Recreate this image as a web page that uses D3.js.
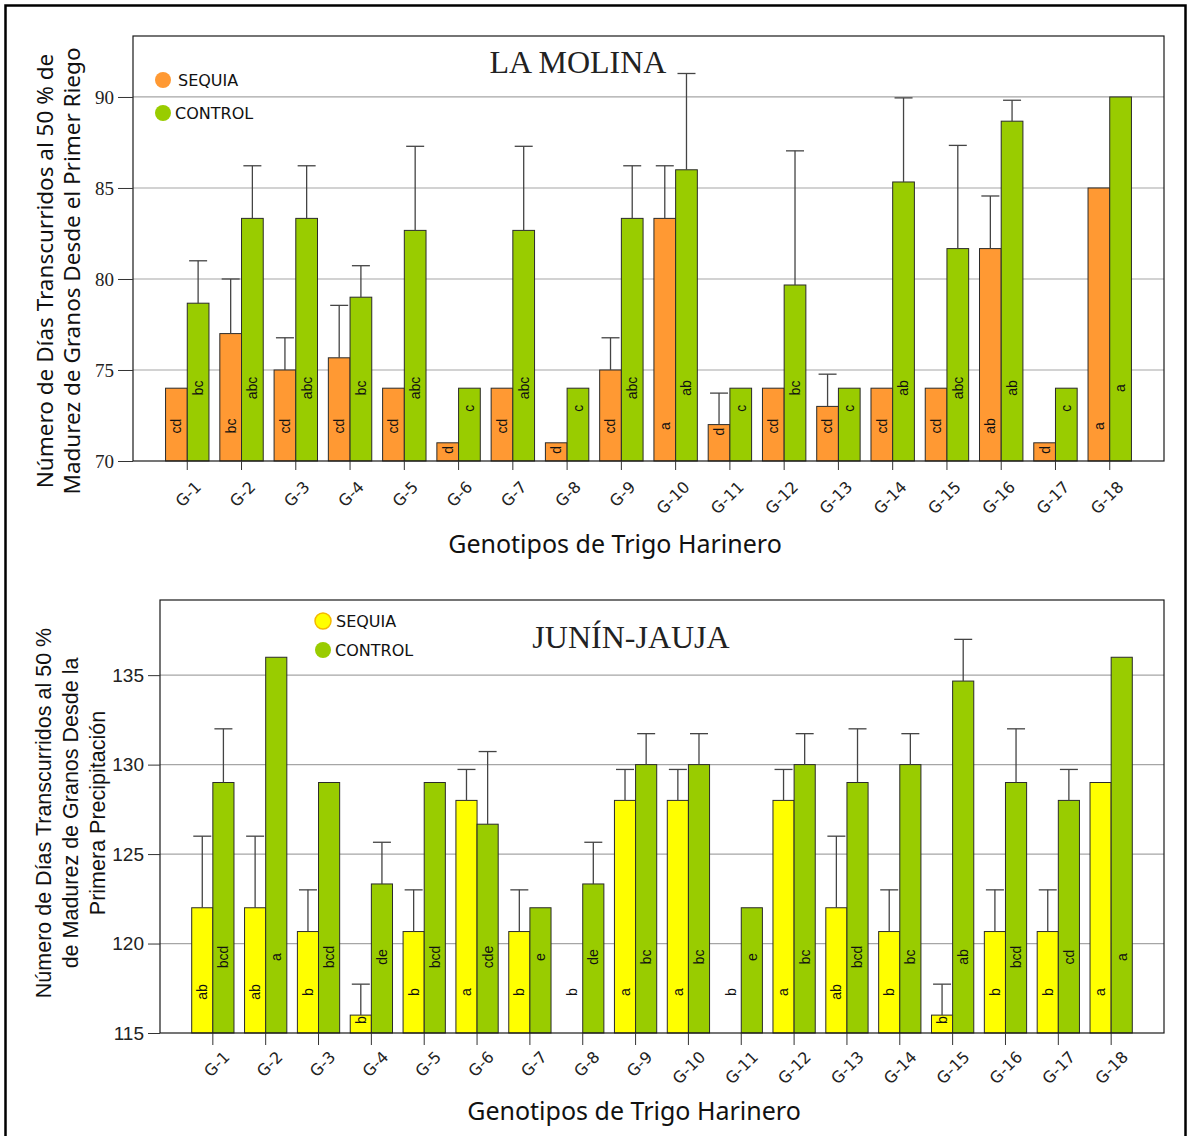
<!DOCTYPE html>
<html>
<head>
<meta charset="utf-8">
<script src="https://cdn.jsdelivr.net/npm/d3@7"></script>
<style>
  body { margin: 0; background: #fff; }
  svg { display: block; }
</style>
</head>
<body>
<script>
const genotipos = d3.range(1, 19).map(i => `G-${i}`)

// LA MOLINA
const molinaSequia = [74, 77, 75, 75.67, 74, 71, 74, 71, 75, 83.33, 72, 74, 73, 74, 74, 81.67, 71, 85]
const molinaSequiaErr = [0, 3, 1.77, 2.88, 0, 0, 0, 0, 1.77, 2.89, 1.73, 0, 1.77, 0, 0, 2.89, 0, 0]
const molinaControl = [78.67, 83.33, 83.33, 79, 82.67, 74, 82.67, 74, 83.33, 86, 74, 79.67, 74, 85.33, 81.67, 88.67, 74, 90]
const molinaControlErr = [2.33, 2.89, 2.89, 1.73, 4.62, 0, 4.62, 0, 2.89, 5.29, 0, 7.37, 0, 4.62, 5.67, 1.15, 0, 0]
const molinaSequiaLetras = ['cd', 'bc', 'cd', 'cd', 'cd', 'd', 'cd', 'd', 'cd', 'a', 'd', 'cd', 'cd', 'cd', 'cd', 'ab', 'd', 'a']
const molinaControlLetras = ['bc', 'abc', 'abc', 'bc', 'abc', 'c', 'abc', 'c', 'abc', 'ab', 'c', 'bc', 'c', 'ab', 'abc', 'ab', 'c', 'a']
const molinaTicks = [70, 75, 80, 85, 90]

// JUNÍN-JAUJA
const jaujaSequia = [122, 122, 120.67, 116, 120.67, 128, 120.67, null, 128, 128, null, 128, 122, 120.67, 116, 120.67, 120.67, 129]
const jaujaSequiaErr = [4, 4, 2.33, 1.73, 2.33, 1.73, 2.33, 0, 1.73, 1.73, 0, 1.73, 4, 2.33, 1.73, 2.33, 2.33, 0]
const jaujaControl = [129, 136, 129, 123.33, 129, 126.67, 122, 123.33, 130, 130, 122, 130, 129, 130, 134.67, 129, 128, 136]
const jaujaControlErr = [3, 0, 0, 2.33, 0, 4.06, 0, 2.33, 1.73, 1.73, 0, 1.73, 3, 1.73, 2.33, 3, 1.73, 0]
const jaujaSequiaLetras = ['ab', 'ab', 'b', 'b', 'b', 'a', 'b', 'b', 'a', 'a', 'b', 'a', 'ab', 'b', 'b', 'b', 'b', 'a']
const jaujaControlLetras = ['bcd', 'a', 'bcd', 'de', 'bcd', 'cde', 'e', 'de', 'bc', 'bc', 'e', 'bc', 'bcd', 'bc', 'ab', 'bcd', 'cd', 'a']
const jaujaTicks = [115, 120, 125, 130, 135]

const W = 1188, H = 1136
const svg = d3.select('body').append('svg').attr('width', W).attr('height', H)

// outer frame
svg.append('rect')
  .attr('x', 5.5).attr('y', 5.5)
  .attr('width', 1180).attr('height', 1140)
  .attr('fill', 'none').attr('stroke', '#000').attr('stroke-width', 2.5)

function drawChart(o) {
  const x = d3.scaleBand()
    .domain(genotipos)
    .range([o.left, o.right])
    .paddingInner(0.2)
    .paddingOuter(0.6)
  const bw = x.bandwidth() / 2
  const y = d3.scaleLinear().domain(o.domain).range([o.bottom, o.top])

  const g = svg.append('g')

  // grid
  g.append('g').selectAll('line')
    .data(o.ticks.slice(1))
    .join('line')
      .attr('x1', o.left).attr('x2', o.right)
      .attr('y1', d => y(d)).attr('y2', d => y(d))
      .attr('stroke', '#a6a6a6').attr('stroke-width', 1.2)

  const rows = genotipos.map((k, i) => ({
    k,
    s: o.seq[i], se: o.seqErr[i], sl: o.seqLet[i],
    c: o.ctl[i], ce: o.ctlErr[i], cl: o.ctlLet[i]
  }))

  // bars
  const grp = g.append('g').selectAll('g').data(rows).join('g')
  grp.filter(d => d.s != null).append('rect')
    .attr('x', d => x(d.k) + x.bandwidth() / 2 - bw)
    .attr('y', d => y(d.s))
    .attr('width', bw)
    .attr('height', d => y(o.domain[0]) - y(d.s))
    .attr('fill', o.seqColor).attr('stroke', '#2b2b2b').attr('stroke-width', 1)
  grp.append('rect')
    .attr('x', d => x(d.k) + x.bandwidth() / 2)
    .attr('y', d => y(d.c))
    .attr('width', bw)
    .attr('height', d => y(o.domain[0]) - y(d.c))
    .attr('fill', o.ctlColor).attr('stroke', '#2b2b2b').attr('stroke-width', 1)

  // error bars
  const err = (sel, val, e, cx) => {
    const f = sel.filter(d => d[e] > 0)
    f.append('line')
      .attr('x1', cx).attr('x2', cx)
      .attr('y1', d => y(d[val])).attr('y2', d => y(d[val] + d[e]))
      .attr('stroke', '#444').attr('stroke-width', 1.3)
    f.append('line')
      .attr('x1', d => cx(d) - 9).attr('x2', d => cx(d) + 9)
      .attr('y1', d => y(d[val] + d[e])).attr('y2', d => y(d[val] + d[e]))
      .attr('stroke', '#444').attr('stroke-width', 1.3)
  }
  err(grp, 's', 'se', d => x(d.k) + x.bandwidth() / 2 - bw / 2)
  err(grp, 'c', 'ce', d => x(d.k) + x.bandwidth() / 2 + bw / 2)

  // letters (significance groups)
  const letter = (sel, val, key, cx, ly, pad) => {
    sel.append('text')
      .attr('transform', d => {
        const cy = d[val] == null ? ly : Math.max(ly, y(d[val]) + pad)
        return `translate(${cx(d)},${cy}) rotate(-90)`
      })
      .attr('text-anchor', 'middle')
      .attr('dy', '0.35em')
      .attr('font-family', '"Liberation Sans", Arial, sans-serif')
      .attr('font-size', 14)
      .attr('fill', '#111')
      .text(d => d[key])
  }
  letter(grp, 's', 'sl', d => x(d.k) + x.bandwidth() / 2 - bw / 2, o.seqLabelY, o.seqPad)
  letter(grp, 'c', 'cl', d => x(d.k) + x.bandwidth() / 2 + bw / 2, o.ctlLabelY, o.ctlPad)

  // frame
  g.append('rect')
    .attr('x', o.left).attr('y', o.top)
    .attr('width', o.right - o.left).attr('height', o.bottom - o.top)
    .attr('fill', 'none').attr('stroke', '#1a1a1a').attr('stroke-width', 1.2)

  // y axis
  const ya = g.append('g')
    .attr('transform', `translate(${o.left},0)`)
    .call(d3.axisLeft(y).tickValues(o.ticks).tickSize(o.tickLen).tickPadding(o.tickPad))
  ya.select('.domain').remove()
  ya.selectAll('line').attr('stroke', '#333')
  ya.selectAll('text')
    .attr('font-family', o.yFont).attr('font-size', o.yFontSize).attr('fill', '#222')

  // x axis
  const xa = g.append('g')
    .attr('transform', `translate(0,${o.bottom})`)
    .call(d3.axisBottom(x).tickSize(o.xTickLen).tickSizeOuter(0))
  xa.select('.domain').remove()
  xa.selectAll('line').attr('stroke', '#333')
  xa.selectAll('text')
    .attr('font-family', '"DejaVu Sans", Verdana, sans-serif')
    .attr('font-size', 16)
    .attr('fill', '#222')
    .attr('text-anchor', 'end')
    .attr('dy', '0.35em')
    .attr('y', 0)
    .attr('transform', `translate(${o.xlx},${o.xly}) rotate(-45)`)

  // titles
  g.append('text')
    .attr('x', o.titleX).attr('y', o.titleY)
    .attr('text-anchor', 'middle')
    .attr('font-family', '"Liberation Serif", "Times New Roman", serif')
    .attr('font-size', 32).attr('fill', '#222')
    .text(o.title)

  g.append('text')
    .attr('x', o.xTitleX).attr('y', o.xTitleY)
    .attr('text-anchor', 'middle')
    .attr('font-family', '"Noto Sans", "Open Sans", sans-serif')
    .attr('font-size', 25).attr('fill', '#111')
    .text('Genotipos de Trigo Harinero')

  const yt = g.append('text')
    .attr('transform', `translate(0,${o.yTitleY}) rotate(-90)`)
    .attr('text-anchor', 'middle')
    .attr('font-family', o.yTitleFont)
    .attr('font-size', o.yTitleSize).attr('fill', '#111')
  yt.selectAll('tspan').data(o.yTitle).join('tspan')
    .attr('x', 0)
    .attr('y', (d, i) => o.yTitleX[i])
    .attr('dy', '0.35em')
    .text(d => d)

  // legend
  const lg = g.append('g')
  const items = [
    { name: 'SEQUIA', color: o.seqColor, stroke: o.seqLegendStroke, cy: o.legY[0], tx: o.legTx[0] },
    { name: 'CONTROL', color: o.ctlColor, stroke: 'none', cy: o.legY[1], tx: o.legTx[1] }
  ]
  lg.selectAll('circle').data(items).join('circle')
    .attr('cx', o.legX).attr('cy', d => d.cy).attr('r', 8)
    .attr('fill', d => d.color).attr('stroke', d => d.stroke).attr('stroke-width', 1.5)
  lg.selectAll('text').data(items).join('text')
    .attr('x', d => d.tx).attr('y', d => d.cy + 6)
    .attr('font-family', '"DejaVu Sans", Verdana, sans-serif')
    .attr('font-size', 16).attr('fill', '#111')
    .text(d => d.name)
}

drawChart({
  left: 133, right: 1164, top: 36, bottom: 461, domain: [70, 93.35],
  seq: molinaSequia, seqErr: molinaSequiaErr, seqLet: molinaSequiaLetras,
  ctl: molinaControl, ctlErr: molinaControlErr, ctlLet: molinaControlLetras,
  ticks: molinaTicks,
  seqColor: '#ff9933', ctlColor: '#99cc00', seqLegendStroke: 'none',
  seqLabelY: 426, seqPad: 7, ctlLabelY: 388, ctlPad: 20,
  tickLen: 15, tickPad: 4,
  yFont: '"Liberation Serif", "Times New Roman", serif', yFontSize: 19,
  xTickLen: 9, xlx: 11, xly: 23,
  title: 'LA MOLINA', titleX: 578, titleY: 73,
  xTitleX: 615, xTitleY: 553,
  yTitle: ['Número de Días Transcurridos al 50 % de', 'Madurez de Granos  Desde el Primer Riego'],
  yTitleX: [45, 72], yTitleY: 271,
  yTitleFont: '"Noto Sans", "Open Sans", sans-serif', yTitleSize: 22.5,
  legX: 163, legY: [80, 113], legTx: [178, 175]
})

drawChart({
  left: 160, right: 1164, top: 600, bottom: 1033, domain: [115, 139.2],
  seq: jaujaSequia, seqErr: jaujaSequiaErr, seqLet: jaujaSequiaLetras,
  ctl: jaujaControl, ctlErr: jaujaControlErr, ctlLet: jaujaControlLetras,
  ticks: jaujaTicks,
  seqColor: '#ffff00', ctlColor: '#99cc00', seqLegendStroke: '#f5b800',
  seqLabelY: 992, seqPad: 5, ctlLabelY: 957, ctlPad: 20,
  tickLen: 12, tickPad: 4,
  yFont: '"Liberation Sans", Arial, sans-serif', yFontSize: 19,
  xTickLen: 12, xlx: 14, xly: 21,
  title: 'JUNÍN-JAUJA', titleX: 631, titleY: 648,
  xTitleX: 634, xTitleY: 1120,
  yTitle: ['Número de Días Transcurridos al 50 %', 'de Madurez de Granos  Desde la', 'Primera Precipitación'],
  yTitleX: [43, 70, 97], yTitleY: 813,
  yTitleFont: '"Liberation Sans", Arial, sans-serif', yTitleSize: 21.5,
  legX: 323, legY: [621, 650], legTx: [336, 335]
})
</script>
</body>
</html>
